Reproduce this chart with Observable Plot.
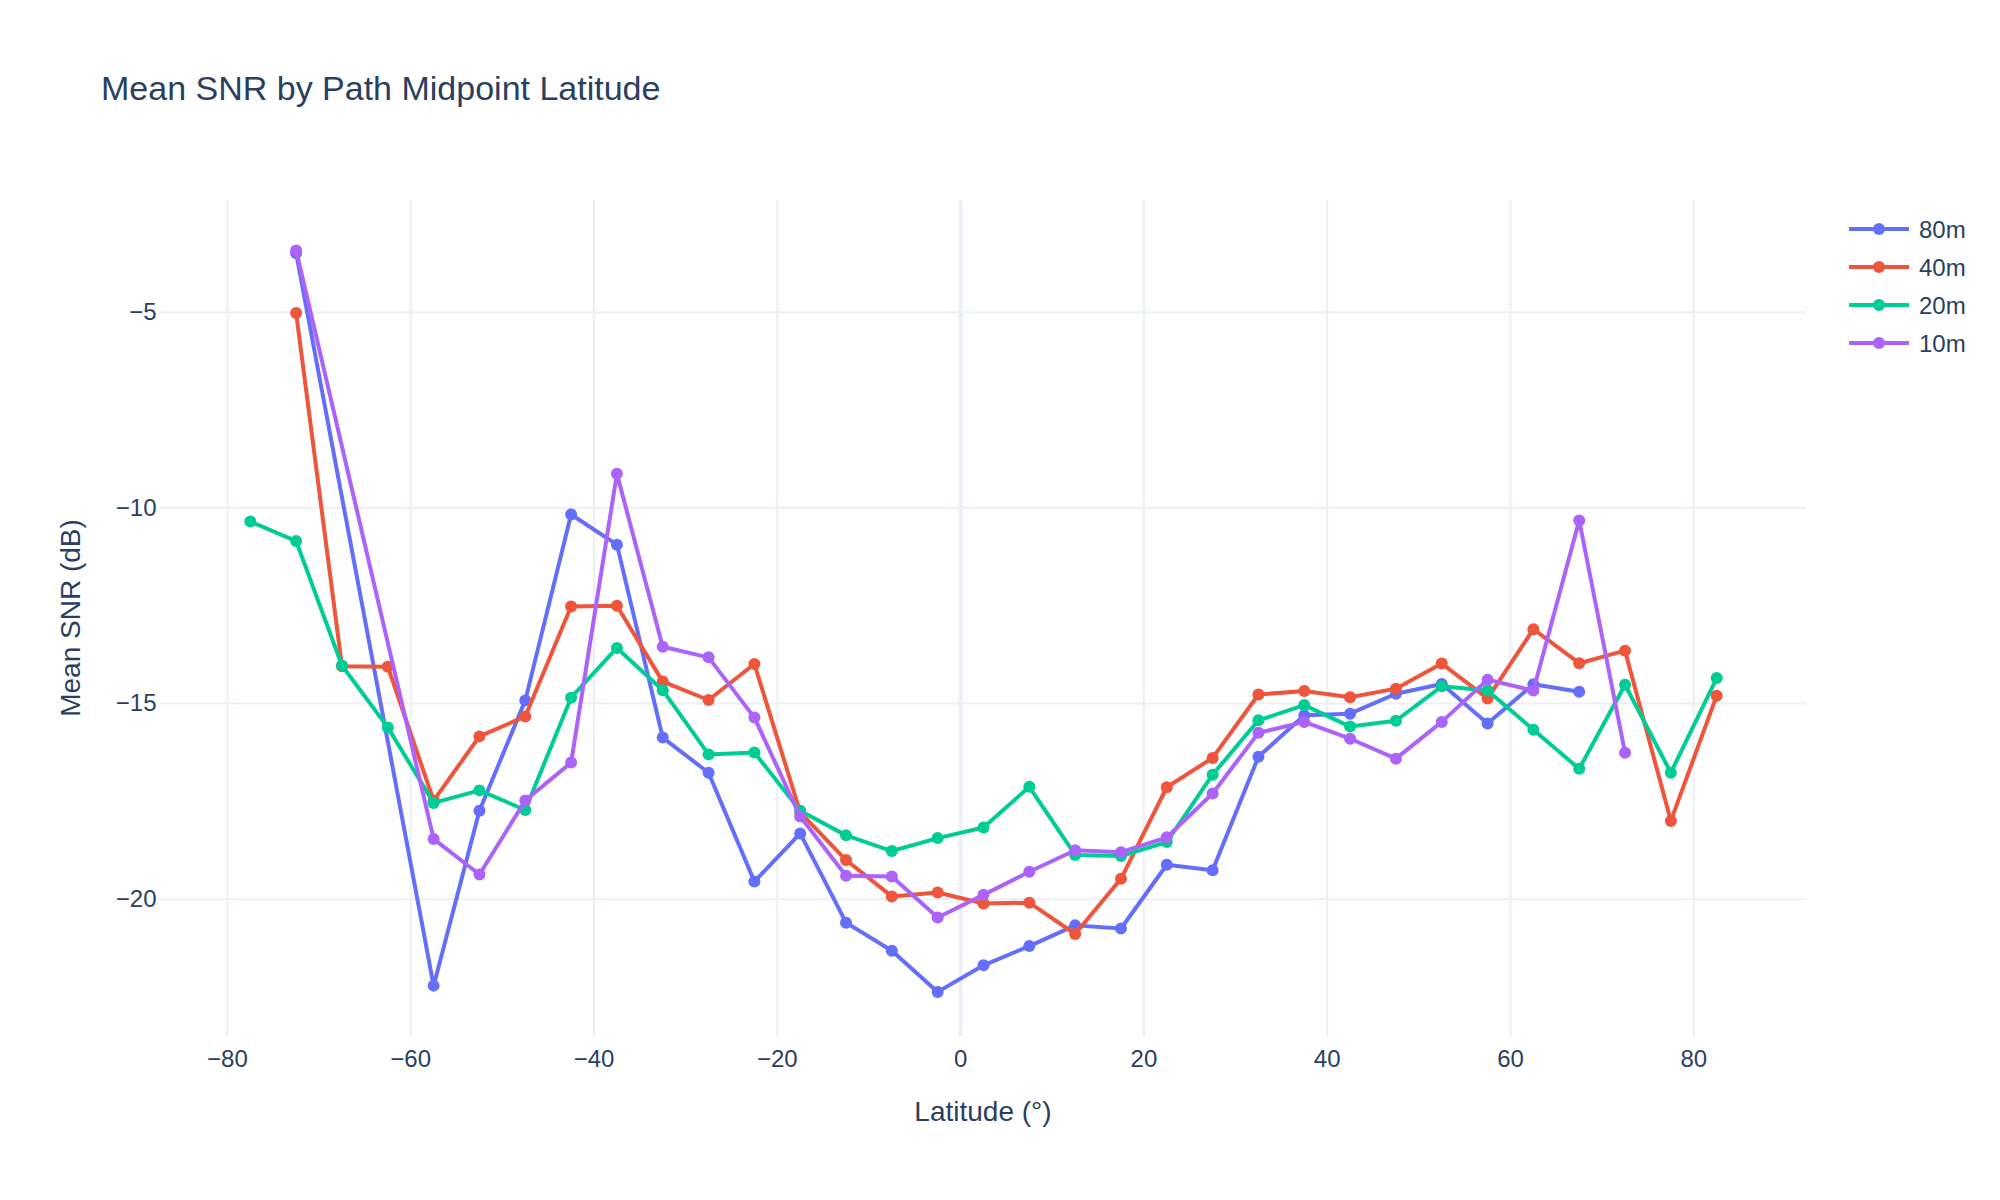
<!DOCTYPE html>
<html>
<head>
<meta charset="utf-8">
<script src="https://cdn.jsdelivr.net/npm/d3@7"></script>
<script src="https://cdn.jsdelivr.net/npm/@observablehq/plot@0.6"></script>
<style>
  body { margin: 0; background: #fff; }
  #wrap { width: 2000px; height: 1200px; }
</style>
</head>
<body>
<div id="wrap"></div>
<script>
// ---- data ----
const latitudes = [-77.5, -72.5, -67.5, -62.5, -57.5, -52.5, -47.5, -42.5, -37.5, -32.5, -27.5,
  -22.5, -17.5, -12.5, -7.5, -2.5, 2.5, 7.5, 12.5, 17.5, 22.5, 27.5, 32.5, 37.5, 42.5, 47.5,
  52.5, 57.5, 62.5, 67.5, 72.5, 77.5, 82.5];

const snr80m = [null, -3.49, null, null, -22.21, -17.74, -14.92, -10.17, -10.94, -15.87, -16.77,
  -19.55, -18.32, -20.60, -21.32, -22.37, -21.69, -21.20, -20.67, -20.75, -19.12, -19.26, -16.36,
  -15.30, -15.26, -14.75, -14.50, -15.51, -14.51, -14.70, null, null, null];

const snr40m = [null, -5.02, -14.05, -14.06, -17.48, -15.84, -15.33, -12.52, -12.50, -14.44, -14.91,
  -13.99, -17.78, -19.00, -19.93, -19.83, -20.11, -20.09, -20.89, -19.48, -17.14, -16.39, -14.77,
  -14.68, -14.84, -14.62, -13.98, -14.87, -13.10, -13.97, -13.65, -18.00, -14.80];

const snr20m = [-10.35, -10.85, -14.03, -15.61, -17.54, -17.22, -17.72, -14.85, -13.58, -14.66, -16.30,
  -16.25, -17.74, -18.37, -18.77, -18.44, -18.17, -17.13, -18.87, -18.90, -18.54, -16.82, -15.43,
  -15.04, -15.59, -15.44, -14.56, -14.67, -15.67, -16.67, -14.52, -16.77, -14.35];

const snr10m = [null, -3.42, null, null, -18.46, -19.37, -17.48, -16.51, -9.13, -13.55, -13.82,
  -15.36, -17.89, -19.40, -19.42, -20.47, -19.89, -19.30, -18.75, -18.80, -18.42, -17.30, -15.75,
  -15.47, -15.90, -16.41, -15.47, -14.39, -14.67, -10.32, -16.26, null, null];

const bands = ["80m", "40m", "20m", "10m"];
const bandColors = ["#636efa", "#EF553B", "#00cc96", "#ab63fa"];
const xTicks = [-80, -60, -40, -20, 0, 20, 40, 60, 80];
const yTicks = [-20, -15, -10, -5];

const titleText = "Mean SNR by Path Midpoint Latitude";
const xLabel = "Latitude (°)";
const yLabel = "Mean SNR (dB)";

// ---- build table ----
const seriesValues = [snr80m, snr40m, snr20m, snr10m];
const rows = bands.flatMap((band, i) =>
  latitudes.map((lat, j) => ({band, lat, snr: seriesValues[i][j]})).filter(d => d.snr != null));

const FONT = '"Liberation Sans", Arial, sans-serif';
const TXT = "#2a3f5f";
const GRID = "#EBF0F8";
const fmt = d3.format("d");

const W = 2000, H = 1200;
const mL = 160, mR = 194, mT = 200, mB = 164;

const chart = Plot.plot({
  width: W,
  height: H,
  marginLeft: mL,
  marginRight: mR,
  marginTop: mT,
  marginBottom: mB,
  style: {fontFamily: FONT, fontSize: "24px", color: TXT, background: "white", overflow: "visible"},
  x: {domain: [-87.3, 92.3], ticks: xTicks, tickFormat: fmt, tickSize: 0, tickPadding: 13, label: null},
  y: {domain: [-23.51, -2.145], ticks: yTicks, tickFormat: fmt, tickSize: 0, tickPadding: 4, label: null},
  color: {domain: bands, range: bandColors},
  marks: [
    Plot.ruleX(xTicks.filter(d => d !== 0), {stroke: GRID, strokeWidth: 2, strokeOpacity: 1}),
    Plot.ruleY(yTicks, {stroke: GRID, strokeWidth: 2, strokeOpacity: 1}),
    Plot.ruleX([0], {stroke: GRID, strokeWidth: 4, strokeOpacity: 1}),
    ...bands.flatMap(b => {
      const data = rows.filter(d => d.band === b);
      return [
        Plot.line(data, {x: "lat", y: "snr", stroke: "band", strokeWidth: 4, strokeLinejoin: "round"}),
        Plot.dot(data, {x: "lat", y: "snr", fill: "band", r: 6, stroke: "none"})
      ];
    })
  ]
});

document.getElementById("wrap").appendChild(chart);

// ---- title, axis titles, legend ----
const svg = d3.select(chart);
const g = svg.append("g").attr("font-family", FONT).attr("fill", TXT);

g.append("text").attr("x", 101).attr("y", 100).attr("text-anchor", "start")
  .attr("font-size", 34).text(titleText);

g.append("text")
  .attr("x", (mL + (W - mR)) / 2).attr("y", 1121)
  .attr("text-anchor", "middle").attr("font-size", 28).text(xLabel);

g.append("text")
  .attr("transform", `translate(70,${(mT + (H - mB)) / 2}) rotate(-90)`)
  .attr("text-anchor", "middle").attr("dominant-baseline", "central")
  .attr("font-size", 28).text(yLabel);

const leg = g.append("g");
bands.forEach((b, i) => {
  const y = 229 + i * 38;
  leg.append("line").attr("x1", 1849).attr("x2", 1909).attr("y1", y).attr("y2", y)
    .attr("stroke", bandColors[i]).attr("stroke-width", 4);
  leg.append("circle").attr("cx", 1879).attr("cy", y).attr("r", 6).attr("fill", bandColors[i]);
  leg.append("text").attr("x", 1919).attr("y", y).attr("text-anchor", "start")
    .attr("dominant-baseline", "central").attr("font-size", 24).text(b);
});
</script>
</body>
</html>
